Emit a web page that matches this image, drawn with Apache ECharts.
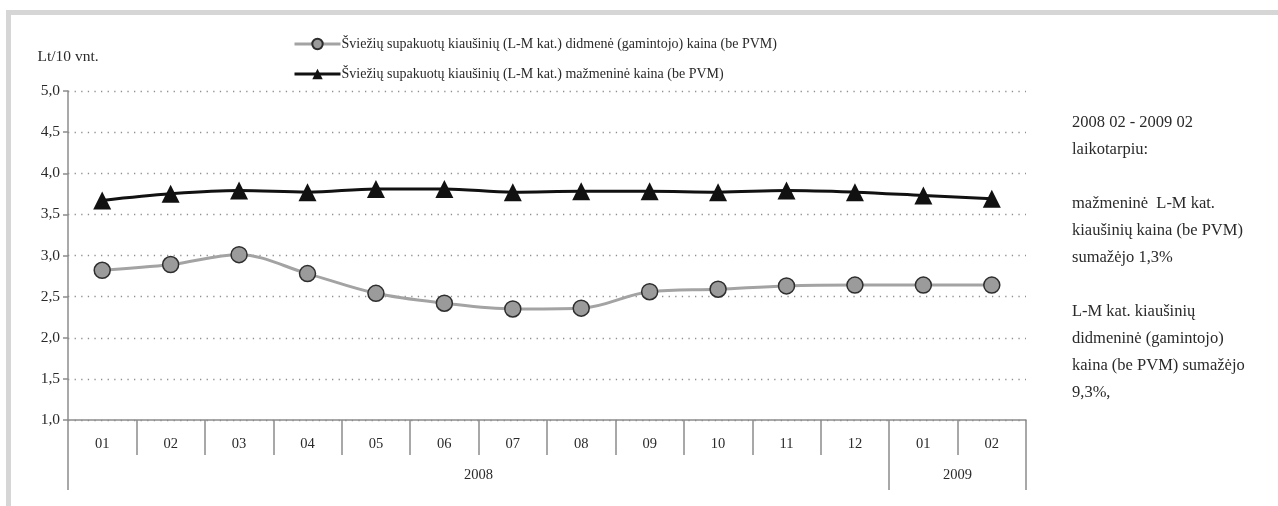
<!DOCTYPE html>
<html>
<head>
<meta charset="utf-8">
<script src="https://cdn.jsdelivr.net/npm/echarts@6/dist/echarts.min.js"></script>
<style>
  html, body { margin: 0; padding: 0; background: #fff; }
  #frame { position: absolute; left: 6px; top: 10px; width: 1272px; height: 496px;
           border-top: 5px solid #d6d6d6; border-left: 5px solid #d6d6d6; box-sizing: border-box; }
  #chart { position: absolute; left: 0; top: 0; width: 1278px; height: 506px; }
</style>
</head>
<body>
<div id="frame"></div>
<div id="chart"></div>
<script>
// ---- data ----
const months = ['01','02','03','04','05','06','07','08','09','10','11','12','01','02'];
const years  = ['2008','2008','2008','2008','2008','2008','2008','2008','2008','2008','2008','2008','2009','2009'];
const wholesaleName = 'Šviežių supakuotų kiaušinių (L-M kat.) didmenė (gamintojo) kaina (be PVM)';
const retailName    = 'Šviežių supakuotų kiaušinių (L-M kat.) mažmeninė kaina (be PVM)';
const wholesale = [2.82, 2.89, 3.01, 2.78, 2.54, 2.42, 2.35, 2.36, 2.56, 2.59, 2.63, 2.64, 2.64, 2.64];
const retail    = [3.67, 3.75, 3.79, 3.77, 3.81, 3.81, 3.77, 3.78, 3.78, 3.77, 3.79, 3.77, 3.73, 3.69];
const yTicks = [1.0, 1.5, 2.0, 2.5, 3.0, 3.5, 4.0, 4.5, 5.0];
const unitLabel = 'Lt/10 vnt.';
const noteLines = [
  '2008 02 - 2009 02',
  'laikotarpiu:',
  '',
  'mažmeninė  L-M kat.',
  'kiaušinių kaina (be PVM)',
  'sumažėjo 1,3%',
  '',
  'L-M kat. kiaušinių',
  'didmeninė (gamintojo)',
  'kaina (be PVM) sumažėjo',
  '9,3%,'
];

// year groups derived from categories
const groups = [];
years.forEach((y, i) => {
  if (!groups.length || groups[groups.length - 1].year !== y) groups.push({ year: y, start: i, end: i + 1 });
  else groups[groups.length - 1].end = i + 1;
});
const boundaries = [0].concat(groups.map(g => g.end));
const centers = groups.map(g => (g.start + g.end) / 2);

const FONT = '"Liberation Serif", "DejaVu Serif", serif';
const TXT = '#2a2a2a';
const AX = '#8c8c8c';

const chart = echarts.init(document.getElementById('chart'), null, { renderer: 'canvas' });
chart.setOption({
  backgroundColor: 'transparent',
  animation: false,
  textStyle: { fontFamily: FONT },
  title: {
    text: noteLines.join('\n'),
    left: 1067, top: 104,
    textStyle: { fontFamily: FONT, fontSize: 16.5, fontWeight: 'normal', color: TXT, lineHeight: 27 }
  },
  legend: {
    orient: 'vertical',
    left: 288, top: 32,
    itemWidth: 46, itemHeight: 13, itemGap: 16,
    lineStyle: { width: 3 },
    textStyle: { fontFamily: FONT, fontSize: 14, color: TXT, padding: [0, 0, 0, -4] },
    data: [wholesaleName, retailName]
  },
  grid: { left: 68, right: 252, top: 91, bottom: 86, containLabel: false },
  xAxis: [
    {
      type: 'category',
      data: months,
      boundaryGap: true,
      axisLine: { show: true, lineStyle: { color: AX, width: 1.5 } },
      axisTick: { show: true, length: 35, alignWithLabel: false, lineStyle: { color: AX, width: 1.5 } },
      axisLabel: { fontFamily: FONT, fontSize: 14.5, color: TXT, margin: 17 },
      splitLine: { show: false }
    },
    {
      type: 'value',
      position: 'bottom',
      offset: 0,
      min: 0, max: months.length,
      axisLine: { show: false },
      axisTick: { show: true, length: 70, customValues: boundaries, lineStyle: { color: AX, width: 1.5 } },
      axisLabel: {
        show: true, customValues: centers, margin: 48,
        fontFamily: FONT, fontSize: 14.5, color: TXT,
        formatter: v => { const g = groups.find(g => Math.abs((g.start + g.end) / 2 - v) < 1e-6); return g ? g.year : ''; }
      },
      splitLine: { show: false }
    }
  ],
  yAxis: {
    type: 'value',
    min: yTicks[0], max: yTicks[yTicks.length - 1], interval: 0.5,
    name: unitLabel,
    nameLocation: 'end',
    nameGap: 26,
    nameTextStyle: { fontFamily: FONT, fontSize: 15.5, color: TXT, align: 'center' },
    axisLine: { show: true, lineStyle: { color: AX, width: 1.5 } },
    axisTick: { show: true, length: 5, lineStyle: { color: AX, width: 1.5 } },
    axisLabel: {
      fontFamily: FONT, fontSize: 15.5, color: TXT, margin: 8,
      formatter: v => v.toFixed(1).replace('.', ',')
    },
    splitLine: { show: true, lineStyle: { color: '#8f8f8f', width: 1.3, type: [1.3, 5.3] } }
  },
  series: [
    {
      name: wholesaleName,
      type: 'line',
      xAxisIndex: 0,
      data: wholesale,
      smooth: 0.35,
      symbol: 'circle',
      symbolSize: 16,
      lineStyle: { color: '#a3a3a3', width: 3 },
      itemStyle: { color: '#9b9b9b', borderColor: '#2e2e2e', borderWidth: 1.5 },
      z: 3
    },
    {
      name: retailName,
      type: 'line',
      xAxisIndex: 0,
      data: retail,
      smooth: 0.35,
      symbol: 'triangle',
      symbolSize: 18,
      lineStyle: { color: '#111', width: 3 },
      itemStyle: { color: '#111', borderColor: '#111', borderWidth: 0 },
      z: 4
    }
  ]
});
</script>
</body>
</html>
